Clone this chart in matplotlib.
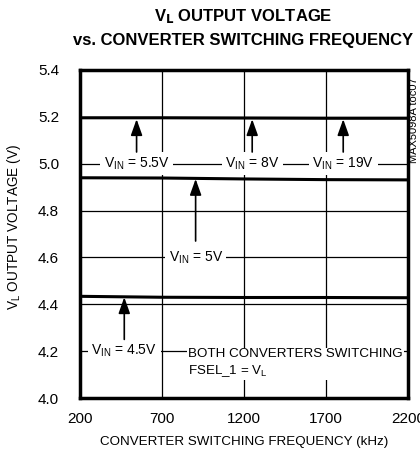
import matplotlib
matplotlib.use("Agg")
import matplotlib.pyplot as plt

plt.rcParams['font.family'] = ['Liberation Sans', 'DejaVu Sans']
plt.rcParams['mathtext.default'] = 'regular'

# data
freq = [200, 700, 1200, 1700, 2200]
vl_high = [5.196, 5.196, 5.195, 5.194, 5.194]   # VIN = 5.5V, 8V, 19V (overlapping)
vl_5v = [4.940, 4.939, 4.935, 4.932, 4.931]
vl_45v = [4.434, 4.430, 4.429, 4.429, 4.428]

x_ticks = [200, 700, 1200, 1700, 2200]
y_ticks = [4.0, 4.2, 4.4, 4.6, 4.8, 5.0, 5.2, 5.4]

# (label, label x, label y, arrow tip y, arrow tail y)
labels = [
    ('V$_{IN}$ = 5.5V', 545, 5.0, 5.19, 5.05),
    ('V$_{IN}$ = 8V', 1250, 5.0, 5.19, 5.05),
    ('V$_{IN}$ = 19V', 1805, 5.0, 5.19, 5.05),
    ('V$_{IN}$ = 5V', 905, 4.6, 4.935, 4.67),
    ('V$_{IN}$ = 4.5V', 470, 4.2, 4.43, 4.25),
]

fig = plt.figure(figsize=(4.2, 4.57), dpi=100)
ax = fig.add_axes([80 / 420, 59 / 457, 328 / 420, 328 / 457])

for y in y_ticks[1:-1]:
    ax.axhline(y, color='black', lw=0.9, zorder=1)
for x in x_ticks[1:-1]:
    ax.axvline(x, color='black', lw=0.9, zorder=1)

ax.plot(freq, vl_high, color='black', lw=2.2, zorder=3)
ax.plot(freq, vl_5v, color='black', lw=2.2, zorder=3)
ax.plot(freq, vl_45v, color='black', lw=2.2, zorder=3)

for text, lx, ly, tip, tail in labels:
    ax.text(lx, ly, text, ha='center', va='center', fontsize=10, zorder=4,
            bbox=dict(facecolor='white', edgecolor='none', pad=2.5))
    ax.annotate('', xy=(lx, tip), xytext=(lx, tail),
                arrowprops=dict(arrowstyle='-|>,head_length=0.7,head_width=0.25',
                                color='black', lw=1.2, mutation_scale=14,
                                shrinkA=0, shrinkB=0), zorder=5)

ax.text(860, 4.215, 'BOTH CONVERTERS SWITCHING\nFSEL_1 = V$_L$', ha='left', va='top',
        fontsize=9.6, linespacing=1.3, zorder=4,
        bbox=dict(facecolor='white', edgecolor='none', pad=1))

ax.set_xlim(200, 2200)
ax.set_ylim(4.0, 5.4)
ax.set_xticks(x_ticks)
ax.set_yticks(y_ticks)
ax.set_yticklabels([f'{v:.1f}' for v in y_ticks])
ax.tick_params(length=0, labelsize=11)
ax.tick_params(axis='y', pad=15)
ax.tick_params(axis='x', pad=10)
for s in ax.spines.values():
    s.set_linewidth(2.5)

ax.set_xlabel('CONVERTER SWITCHING FREQUENCY (kHz)', fontsize=9.6, labelpad=7)
ax.set_ylabel('V$_L$ OUTPUT VOLTAGE (V)', fontsize=9.8)
ax.yaxis.set_label_coords(-57 / 328, 0.52)

fig.text(243 / 420, 1 - 17 / 457, 'V$_\\mathbf{L}$ OUTPUT VOLTAGE', ha='center', va='center',
         fontsize=12, fontweight='bold')
fig.text(243 / 420, 1 - 40 / 457, 'vs. CONVERTER SWITCHING FREQUENCY', ha='center',
         va='center', fontsize=12, fontweight='bold')
fig.text(414 / 420, 1 - 120 / 457, 'MAX5098A toc07', rotation=90, ha='center', va='center',
         fontsize=8)

fig.savefig('out.png', dpi=100)
